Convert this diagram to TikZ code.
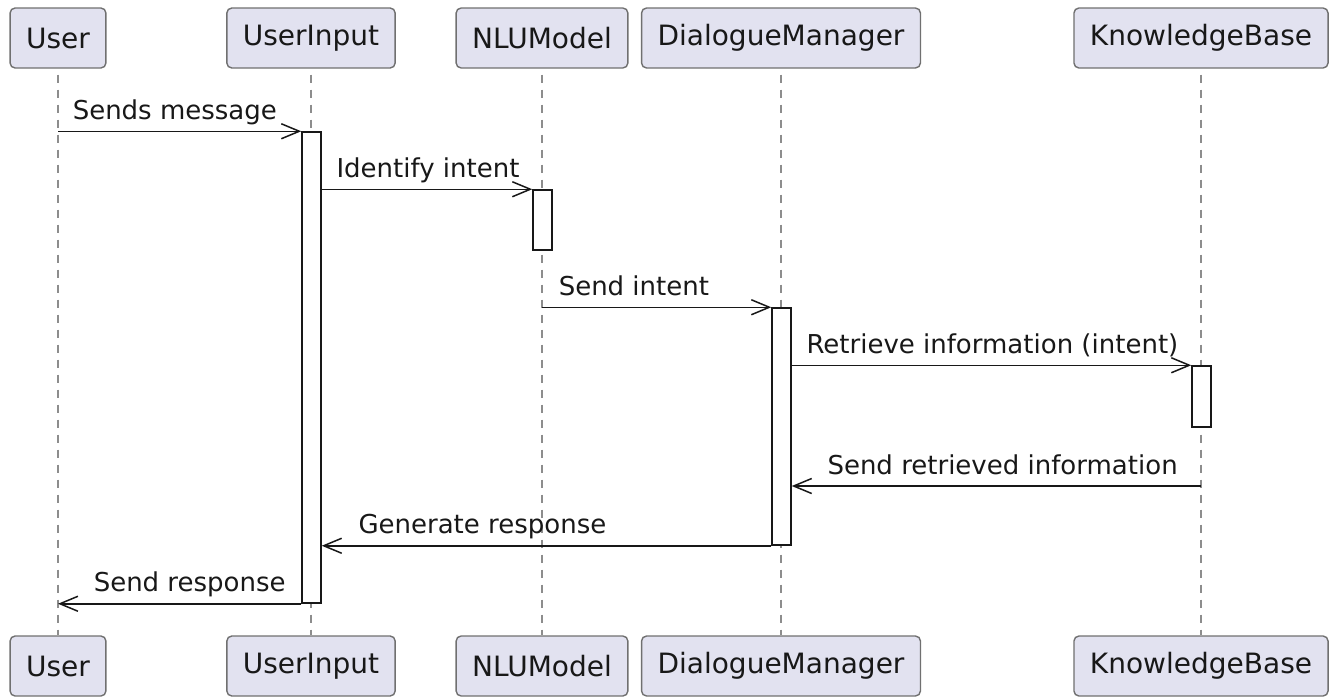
\documentclass[tikz,border=0pt]{standalone}
\usepackage{fontspec}
\setmainfont{DejaVu Sans}
\usepackage{xcolor}
\usepackage{tikz}
\usetikzlibrary{arrows.meta, positioning, fit}

\definecolor{partfill}{RGB}{226,226,240}
\definecolor{partedge}{RGB}{112,112,112}
\definecolor{ink}{RGB}{24,24,24}

\begin{document}
\begin{tikzpicture}[
  x=0.5pt, y=-0.5pt,
  font=\fontsize{13pt}{15pt}\selectfont,
  text=ink,
  party/.style={
    draw=partedge,
    fill=partfill,
    rounded corners=2.5pt,
    line width=0.7pt,
    minimum height=30pt,
    inner xsep=8pt,
    font=\fontsize{14pt}{16pt}\selectfont
  },
  life/.style={draw=partedge!80, line width=0.6pt, dash pattern=on 4pt off 3.5pt},
  act/.style={draw=ink, fill=white, line width=0.75pt, inner sep=0pt},
  msg/.style={-{Straight Barb[length=9pt, width=7.5pt, line width=0.75pt]}, line width=0.75pt, draw=ink},
  lbl/.style={inner sep=0pt, anchor=base west}
]
\useasboundingbox (0,0) rectangle (1337,696);

% ================= participants (top) =================
\node[party] (user)  at (58,38)   {User};
\node[party] (ui)    at (311,38)  {UserInput};
\node[party] (nlu)   at (542,38)  {NLUModel};
\node[party] (dm)    at (781,38)  {DialogueManager};
\node[party] (kb)    at (1201,38) {KnowledgeBase};

% ================= participants (bottom) =================
\node[party] (userB) at (58,666)   {User};
\node[party] (uiB)   at (311,666)  {UserInput};
\node[party] (nluB)  at (542,666)  {NLUModel};
\node[party] (dmB)   at (781,666)  {DialogueManager};
\node[party] (kbB)   at (1201,666) {KnowledgeBase};

% lifelines
\draw[life] ([yshift=-3pt]user.south) -- (userB);
\draw[life] ([yshift=-3pt]ui.south) -- (uiB);
\draw[life] ([yshift=-3pt]nlu.south) -- (nluB);
\draw[life] ([yshift=-3pt]dm.south) -- (dmB);
\draw[life] ([yshift=-3pt]kb.south) -- (kbB);

% ================= activations =================
\node[act, fit={(302,132) (321,603)}] (uiAct) {};
\node[act, fit={(533,190) (552,250)}] (nluAct) {};
\node[act, fit={(772,308) (791,545)}] (dmAct) {};
\node[act, fit={(1192,366) (1211,427)}] (kbAct) {};

\coordinate (rowRet) at (0,486);

% ================= messages =================
\draw[msg] (user |- uiAct.north) -- (uiAct.north west)
  node[lbl, pos=0, xshift=7pt, yshift=6pt] (lSends) {Sends message};
\draw[msg] (uiAct.east |- nluAct.north) -- (nluAct.north west)
  node[lbl, pos=0, xshift=7pt, yshift=6pt] (lIdent) {Identify intent};
\draw[msg] (nlu |- dmAct.north) -- (dmAct.north west)
  node[lbl, pos=0, xshift=8pt, yshift=6pt] (lIntent) {Send intent};
\draw[msg] (dmAct.east |- kbAct.north) -- (kbAct.north west)
  node[lbl, pos=0, xshift=7pt, yshift=6pt] (lRetr) {Retrieve information (intent)};
\draw[msg] (kb |- rowRet) -- (dmAct.east |- rowRet)
  node[lbl, pos=1, xshift=17.5pt, yshift=6pt] (lInfo) {Send retrieved information};
\draw[msg] (dmAct.south west) -- (uiAct.east |- dmAct.south)
  node[lbl, pos=1, xshift=18pt, yshift=6pt] (lGen) {Generate response};
\draw[msg] (uiAct.south west) -- (user |- uiAct.south)
  node[lbl, pos=1, xshift=17.5pt, yshift=6pt] (lResp) {Send response};

\end{tikzpicture}
\end{document}
